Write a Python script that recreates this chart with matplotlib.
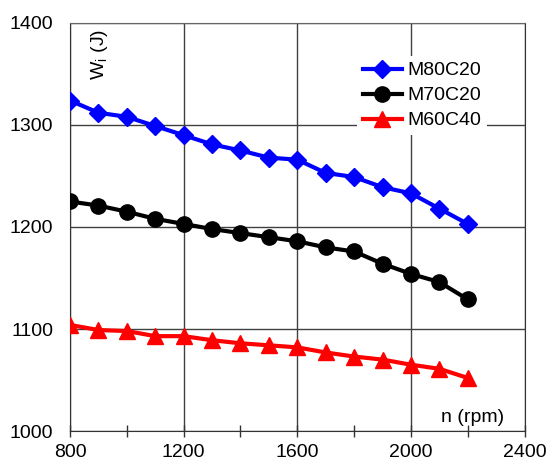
import matplotlib
matplotlib.use("Agg")
import matplotlib.pyplot as plt
from matplotlib.ticker import MultipleLocator

plt.rcParams['font.family'] = ['Liberation Sans', 'DejaVu Sans']

# Engine speed (rpm)
rpm = [800, 900, 1000, 1100, 1200, 1300, 1400, 1500, 1600, 1700, 1800, 1900, 2000, 2100, 2200]

# Indicated work Wi (J) for each blend
m80c20 = [1324, 1312, 1308, 1299, 1290, 1281, 1275, 1268, 1266, 1253, 1249, 1239, 1233, 1218, 1203]
m70c20 = [1225, 1221, 1215, 1208, 1203, 1198, 1194, 1190, 1186, 1180, 1176, 1164, 1154, 1146, 1129]
m60c40 = [1104, 1099, 1098, 1093, 1093, 1089, 1086, 1084, 1082, 1077, 1073, 1070, 1065, 1061, 1052]

series_labels = ["M80C20", "M70C20", "M60C40"]

fig = plt.figure(figsize=(5.48, 4.71), dpi=100)
ax = fig.add_axes([0.1277, 0.0849, 0.8296, 0.8663])

ax.plot(rpm, m80c20, color='#0000ff', lw=3, marker='D', ms=9.5, label=series_labels[0], zorder=3)
ax.plot(rpm, m70c20, color='black', lw=3, marker='o', ms=11, label=series_labels[1], zorder=3)
ax.plot(rpm, m60c40, color='#ff0000', lw=3, marker='^', ms=12, label=series_labels[2], zorder=3)

ax.set_xlim(800, 2400)
ax.set_ylim(1000, 1400)
ax.xaxis.set_major_locator(MultipleLocator(400))
ax.xaxis.set_minor_locator(MultipleLocator(200))
ax.yaxis.set_major_locator(MultipleLocator(100))

ax.grid(True, which='major', color='#404040', lw=1)
ax.set_axisbelow(True)

ax.tick_params(axis='x', which='both', direction='inout', length=8, width=1,
               labelsize=14, pad=5, color='#333333')
ax.tick_params(axis='y', which='both', length=0, labelsize=14, pad=12)

for side in ['left', 'bottom', 'right']:
    ax.spines[side].set_color('#333333')
ax.spines['top'].set_color('#666666')

ax.text(0.066, 0.985, r"W$_\mathregular{i}$ (J)", rotation=90, transform=ax.transAxes,
        ha='center', va='top', fontsize=14)
ax.text(0.956, 0.034, "n (rpm)", transform=ax.transAxes, ha='right', va='center',
        fontsize=14)

leg = ax.legend(loc='center', bbox_to_anchor=(0.775, 0.822), fontsize=14,
                frameon=True, fancybox=False, edgecolor='none', facecolor='white',
                framealpha=1, handlelength=2.0, handletextpad=0.3,
                labelspacing=0.38, borderpad=0.3, borderaxespad=0)
leg.set_zorder(5)

fig.savefig("out.png", dpi=100)
